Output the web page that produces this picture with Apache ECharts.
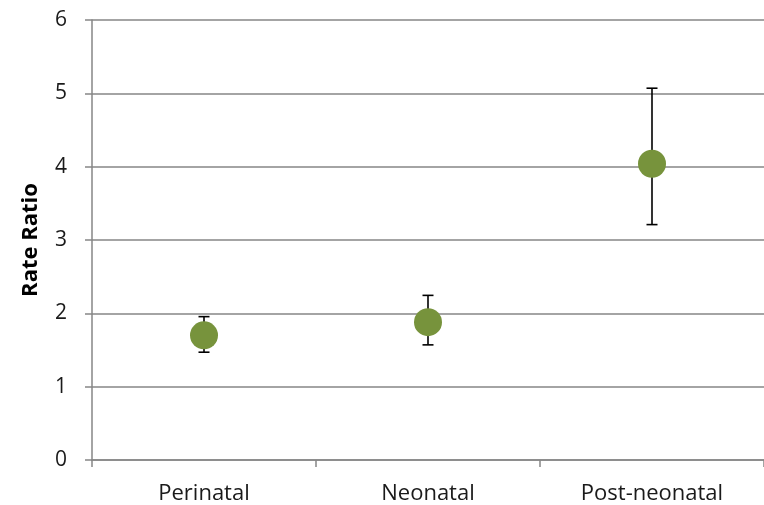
<!DOCTYPE html>
<html><head><meta charset="utf-8">
<script src="https://cdn.jsdelivr.net/npm/echarts@6/dist/echarts.min.js"></script>
<style>html,body{margin:0;padding:0;background:#fff}#c{width:764px;height:505px}</style>
</head><body><div id="c"></div>
<script>
var categories = ['Perinatal', 'Neonatal', 'Post-neonatal'];
var rateRatio = [1.70, 1.88, 4.04];
var lowerCI = [1.47, 1.57, 3.21];
var upperCI = [1.955, 2.245, 5.07];
var yTicks = [0, 1, 2, 3, 4, 5, 6];

var chart = echarts.init(document.getElementById('c'));
var font = 'Open Sans, Liberation Sans, sans-serif';
chart.setOption({
  animation: false,
  grid: { left: 92, top: 20, bottom: 44, width: 680, containLabel: false },
  xAxis: {
    type: 'category', data: categories, boundaryGap: true,
    axisLine: { lineStyle: { color: '#868686', width: 1.5 } },
    axisTick: { show: true, length: 7, lineStyle: { color: '#868686', width: 1.5 } },
    axisLabel: { color: '#1a1a1a', fontSize: 22, fontFamily: font, margin: 23 }
  },
  yAxis: {
    type: 'value', min: yTicks[0], max: yTicks[yTicks.length - 1], interval: 1,
    name: 'Rate Ratio', nameLocation: 'middle', nameGap: 50, nameRotate: 90,
    nameTextStyle: { fontSize: 22, fontWeight: 'bold', color: '#000', fontFamily: font },
    axisLine: { show: true, lineStyle: { color: '#868686', width: 1.5 } },
    axisTick: { show: true, length: 7, lineStyle: { color: '#868686', width: 1.5 } },
    axisLabel: { color: '#1a1a1a', fontSize: 21, fontFamily: font, margin: 25 },
    splitLine: { lineStyle: { color: '#868686', width: 1.5 } }
  },
  series: [
    {
      type: 'custom',
      data: categories.map(function (c, i) { return [i, lowerCI[i], upperCI[i]]; }),
      renderItem: function (params, api) {
        var lo = api.coord([api.value(0), api.value(1)]);
        var hi = api.coord([api.value(0), api.value(2)]);
        var w = 5.5;
        var st = { stroke: '#000', lineWidth: 1.6 };
        return {
          type: 'group',
          children: [
            { type: 'line', shape: { x1: lo[0], y1: lo[1], x2: hi[0], y2: hi[1] }, style: st },
            { type: 'line', shape: { x1: lo[0] - w, y1: lo[1], x2: lo[0] + w, y2: lo[1] }, style: st },
            { type: 'line', shape: { x1: hi[0] - w, y1: hi[1], x2: hi[0] + w, y2: hi[1] }, style: st }
          ]
        };
      },
      z: 2
    },
    {
      type: 'scatter',
      data: rateRatio,
      symbol: 'circle', symbolSize: 28,
      itemStyle: { color: '#77933C', opacity: 1 },
      z: 3
    }
  ]
});
</script></body></html>
